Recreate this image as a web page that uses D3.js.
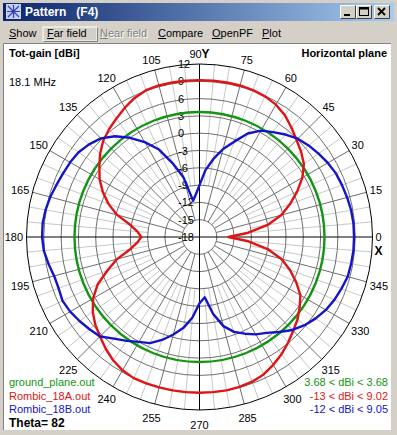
<!DOCTYPE html>
<html>
<head>
<meta charset="utf-8">
<title>Pattern (F4)</title>
<style>
  body { margin: 0; background: #d4d0c8; }
  svg text { font-family: "Liberation Sans", Arial, sans-serif; font-size: 11px; }
</style>
</head>
<body>
<script src="https://d3js.org/d3.v7.min.js"></script>
<script>
var w = 397, h = 435;

// azimuth in degrees (0 = +X, counter-clockwise), gains in dBi
var angles = [0,5,10,15,20,25,30,35,40,45,50,55,60,65,70,75,80,85,90,95,100,105,110,115,120,125,130,135,140,145,150,155,160,165,170,175,
              180,185,190,195,200,205,210,215,220,225,230,235,240,245,250,255,260,265,270,275,280,285,290,295,300,305,310,315,320,325,330,335,340,345,350,355];
var rombicA = [-13,-9.5,-6.0,-3.3,-1.3,0.7,2.6,4.1,5.0,5.8,6.8,7.8,8.5,8.9,9.1,9.2,9.2,9.2,9.2,9.2,9.2,9.2,9.1,8.6,7.9,7.1,6.4,5.6,4.5,3.2,2.0,0.5,-1.2,-3.2,-5.8,-7.2,
               -7.9,-7.2,-5.8,-3.2,-1.0,1.5,3.3,4.6,5.6,6.4,7.3,8.1,8.7,9.0,9.0,9.0,9.0,9.0,9.0,9.0,9.0,8.9,8.7,8.3,7.6,6.8,5.9,5.0,4.2,3.2,2.2,0.5,-1.3,-3.3,-6.0,-9.5];
var rombicB = [8.8,8.8,8.7,8.5,8.3,8.1,7.7,7.2,6.7,6.1,5.2,4.2,3.3,1.8,-0.4,-2.2,-4.3,-6.4,-9.0,-10.6,-11.6,-7.3,-4.4,-1.2,1.0,3.0,4.8,6.2,7.0,7.6,7.9,8.1,8.4,8.8,9.1,9.3,
               9.3,9.1,8.6,8.1,8.0,8.2,7.9,7.4,6.9,6.4,5.0,4.0,3.0,2.3,1.0,-0.5,-2.0,-4.0,-6.5,-7.5,-4.5,-2.0,-0.5,0.5,1.5,2.3,3.5,4.8,5.8,6.6,7.3,7.8,8.2,8.6,8.7,8.8];
var groundGain = 3.68;

var ringTicks = [12,9,6,3,0,-3,-6,-9,-12,-15,-18];
var angleTicks = [0,15,30,45,60,75,90,105,120,135,150,165,180,195,210,225,240,255,270,285,300,315,330,345];
var legendNames = ["ground_plane.out","Rombic_18A.out","Rombic_18B.out"];
var legendRanges = ["3.68 < dBi < 3.68","-13 < dBi < 9.02","-12 < dBi < 9.05"];
var colors = ["#139513","#e01414","#1414c8"];
var menuItems = ["Show","Far field","Near field","Compare","OpenPF","Plot"];

var svg = d3.select('body').append('svg')
            .attr('width', w).attr('height', h);

// ---- window chrome ----
var grad = svg.append('defs').append('linearGradient').attr('id','tb');
grad.append('stop').attr('offset','0%').attr('stop-color','#0a246a');
grad.append('stop').attr('offset','100%').attr('stop-color','#a6caf0');

svg.append('rect').attr('x',0).attr('y',0).attr('width',w).attr('height',h).attr('fill','#d4d0c8');
svg.append('rect').attr('x',3).attr('y',3).attr('width',w-6).attr('height',18).attr('fill','url(#tb)');

// icon
var ic = svg.append('g').attr('transform','translate(6,4)');
ic.append('rect').attr('width',15).attr('height',15).attr('fill','#c8d0f0');
ic.append('path').attr('d','M2,2L13,13M13,2L2,13M7.5,1V14M1,7.5H14').attr('stroke','#3040b0').attr('stroke-width',1.2);
svg.append('text').attr('x',25).attr('y',16).attr('fill','#fff')
   .style('font-weight','bold').style('font-size','12px').text('Pattern   (F4)').attr('xml:space','preserve');

// caption buttons
var btnX = [340, 356, 374];
var btnGlyph = ['min','max','close'];
btnX.forEach(function(bx, i) {
  var g = svg.append('g').attr('transform','translate(' + bx + ',5)');
  g.append('rect').attr('width',16).attr('height',14).attr('fill','#d4d0c8');
  g.append('path').attr('d','M0.5,13.5V0.5H15.5').attr('stroke','#fff').attr('fill','none');
  g.append('path').attr('d','M0.5,13.5H15.5V0.5').attr('stroke','#404040').attr('fill','none');
  if (btnGlyph[i] == 'min') g.append('rect').attr('x',4).attr('y',9).attr('width',6).attr('height',2).attr('fill','#000');
  if (btnGlyph[i] == 'max') g.append('rect').attr('x',3.5).attr('y',2.5).attr('width',9).attr('height',8).attr('fill','none').attr('stroke','#000').style('stroke-width','1').clone().attr('height',1).attr('y',3);
  if (btnGlyph[i] == 'close') g.append('path').attr('d','M4,3L11,10M11,3L4,10').attr('stroke','#000').attr('stroke-width',1.8);
});

// menu bar
var menuX = [9, 47, 100, 158, 212, 262];
svg.append('rect').attr('x',43).attr('y',27).attr('width',54).attr('height',14).attr('fill','none')
   .attr('stroke','#fff');
svg.append('path').attr('d','M43.5,41.5H97.5V27.5').attr('stroke','#808080').attr('fill','none');
menuItems.forEach(function(m, i) {
  var disabled = (m == 'Near field');
  if (disabled) {
    svg.append('text').attr('x',menuX[i]+1).attr('y',38).attr('fill','#fff').text(m);
  }
  var t = svg.append('text').attr('x',menuX[i]).attr('y',37)
     .attr('fill', disabled ? '#808080' : '#000').text(m);
  var first = t.node().getSubStringLength(0,1);
  svg.append('line').attr('x1',menuX[i]).attr('x2',menuX[i]+first)
     .attr('y1',38.5).attr('y2',38.5).attr('stroke', disabled ? '#808080' : '#000');
});

// plot panel
svg.append('rect').attr('x',3).attr('y',43).attr('width',388).attr('height',387).attr('fill','#fff');
svg.append('path').attr('d','M3.5,430V43.5H391').attr('stroke','#808080').attr('fill','none');

// ---- polar plot ----
var cx = 199.5, cy = 237, R = 173;
var r = d3.scaleLinear().domain([-18, 12]).range([0, R]).clamp(true);
var rad = function(deg) { return deg * Math.PI / 180; };

var plot = svg.append('g').attr('transform','translate(' + cx + ',' + cy + ')');

// light radials every 5 degrees
var fine = d3.range(0, 360, 5).filter(function(a) { return a % 15 != 0; });
plot.selectAll('.fine').data(fine).enter().append('line')
    .attr('x1', function(a) { return r(-9) * Math.cos(rad(a)); })
    .attr('y1', function(a) { return -r(-9) * Math.sin(rad(a)); })
    .attr('x2', function(a) { return R * Math.cos(rad(a)); })
    .attr('y2', function(a) { return -R * Math.sin(rad(a)); })
    .attr('stroke','#c8c8c8').attr('stroke-width',1);

// main radials every 15 degrees
plot.selectAll('.spoke').data(angleTicks.filter(function(a) { return a % 90 != 0; })).enter().append('line')
    .attr('x1', function(a) { return r(-15) * Math.cos(rad(a)); })
    .attr('y1', function(a) { return -r(-15) * Math.sin(rad(a)); })
    .attr('x2', function(a) { return R * Math.cos(rad(a)); })
    .attr('y2', function(a) { return -R * Math.sin(rad(a)); })
    .attr('stroke','#6e6e6e').attr('stroke-width',1);

// rings
plot.selectAll('.ring').data(ringTicks.filter(function(v) { return v > -18; })).enter().append('circle')
    .attr('r', function(v) { return r(v); })
    .attr('fill','none')
    .attr('stroke', function(v) { return v == 12 ? '#000' : '#6e6e6e'; })
    .attr('stroke-width',1);

// axes
plot.append('line').attr('x1',-R).attr('x2',R).attr('y1',0).attr('y2',0).attr('stroke','#000');
plot.append('line').attr('x1',0).attr('x2',0).attr('y1',-R).attr('y2',R).attr('stroke','#000');

// ring labels
plot.selectAll('.rl').data(ringTicks).enter().append('text')
    .attr('x', -21.5)
    .attr('y', function(v) { return -r(v) + 4; })
    .text(function(v) { return v; });

// angle labels
angleTicks.forEach(function(a) {
  var c = Math.cos(rad(a)), s = Math.sin(rad(a));
  var px = R * c, py = -R * s;
  var t = plot.append('text').attr('text-anchor','middle');
  if (a == 90) {
    t.append('tspan').text('90');
    t.append('tspan').style('font-weight','bold').style('font-size','12px').text('Y');
  } else {
    t.text(a);
  }
  var tw = t.node().getComputedTextLength();
  var lx = px + c * (tw / 2 + 3.5);
  var ly = py - s * (s > 0 ? 10.5 : 14.5);
  if (a == 0) { lx = px + 6; ly = -0.5; }
  t.attr('x', lx).attr('y', ly + 4);
});
plot.append('text').attr('x', R + 6).attr('y', 18).attr('text-anchor','middle')
    .style('font-weight','bold').style('font-size','12px').text('X');

// patterns
var line = d3.lineRadial()
    .angle(function(d) { return rad(90 - d[0]); })
    .radius(function(d) { return r(d[1]); })
    .curve(d3.curveLinearClosed);

plot.append('circle').attr('r', r(groundGain)).attr('fill','none')
    .attr('stroke', colors[0]).attr('stroke-width',2.4);
plot.append('path').datum(d3.zip(angles, rombicA)).attr('d', line)
    .attr('fill','none').attr('stroke', colors[1]).attr('stroke-width',2.4).attr('stroke-linejoin','round');
plot.append('path').datum(d3.zip(angles, rombicB)).attr('d', line)
    .attr('fill','none').attr('stroke', colors[2]).attr('stroke-width',2.4).attr('stroke-linejoin','round');

// ---- annotations ----
svg.append('text').attr('x',9).attr('y',57).style('font-weight','bold').text('Tot-gain [dBi]');
svg.append('text').attr('x',9).attr('y',86).text('18.1 MHz');
svg.append('text').attr('x',387).attr('y',57).attr('text-anchor','end').style('font-weight','bold').text('Horizontal plane');

var legY = [386, 399.5, 413];
legendNames.forEach(function(n, i) {
  svg.append('text').attr('x',9).attr('y',legY[i]).attr('fill',colors[i]).text(n);
  svg.append('text').attr('x',388).attr('y',legY[i]).attr('text-anchor','end').attr('fill',colors[i]).text(legendRanges[i]);
});
svg.append('text').attr('x',9).attr('y',427).style('font-weight','bold').style('font-size','12px').text('Theta= 82');
</script>
</body>
</html>
